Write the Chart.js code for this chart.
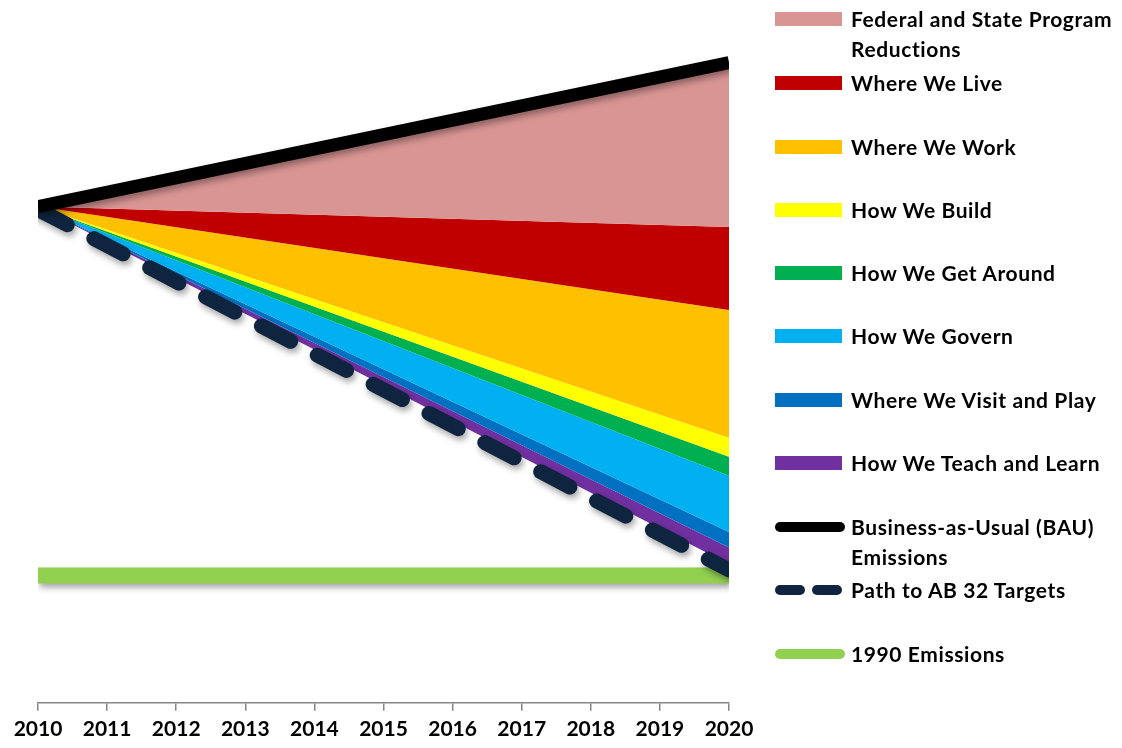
<!DOCTYPE html>
<html>
<head>
<meta charset="utf-8">
<script src="https://cdn.jsdelivr.net/npm/chart.js@4/dist/chart.umd.min.js"></script>
<style>
    html, body { margin: 0; padding: 0; background: #fff; }
    #wrap { position: relative; width: 1122px; height: 748px; overflow: hidden; }
    #chart { position: absolute; left: 0; top: 0; }
    .legend { position: absolute; left: 0; top: 0; font-family: Lato, 'Open Sans', sans-serif; font-weight: 700; font-size: 21px; letter-spacing: 0.6px; color: #000; }
    .item { position: absolute; left: 851px; line-height: 30px; white-space: nowrap; }
    .sw { position: absolute; left: 775px; width: 67px; height: 14px; }
    .ln { position: absolute; left: 775px; width: 70px; height: 10px; border-radius: 5px; }
    .dash { position: absolute; width: 30px; height: 10px; border-radius: 5px; background: #0F243E; }
</style>
</head>
<body>
<div id="wrap">
    <canvas id="chart" width="1122" height="748"></canvas>
    <div class="legend" id="legend"></div>
</div>
<script>
// years on the axis
const years = [2010, 2011, 2012, 2013, 2014, 2015, 2016, 2017, 2018, 2019, 2020];
const endYears = [2010, 2020];

// emissions, arbitrary units
const bauEmissions = [70.6, 91.1];
const bandBase = [70.6, 19.7];
const targetPath = [70.2, 18.9];
const emissions1990 = [18.1, 18.1];

// reductions by strategy, listed bottom to top
const strategies = ['How We Teach and Learn', 'Where We Visit and Play', 'How We Govern', 'How We Get Around',
    'How We Build', 'Where We Work', 'Where We Live', 'Federal and State Program Reductions'];
const reductions2010 = [0, 0, 0, 0, 0, 0, 0, 0];
const reductions2020 = [2.4, 2.2, 8.0, 2.7, 2.7, 18.2, 11.8, 23.4];
const strategyColors = ['#7030A0', '#0070C0', '#00B0F0', '#00B050', '#FFFF00', '#FFC000', '#C00000', '#D99594'];

function pts(vals) {
    return vals.map(function(v, i) { return { x: endYears[i], y: v }; });
}

// cumulative band tops, bottom up
const tops = [];
let run = bandBase.slice();
strategies.forEach(function(s, i) {
    run = [run[0] + reductions2010[i], run[1] + reductions2020[i]];
    tops.push(run.slice());
});

const datasets = [
    { label: 'Business-as-Usual (BAU) Emissions', data: pts(bauEmissions), borderColor: '#000', borderWidth: 13, fill: false, shadow: true },
    { label: 'Path to AB 32 Targets', data: pts(targetPath), borderColor: '#0F243E', borderWidth: 15, borderDash: [33, 30], borderCapStyle: 'round', fill: false, shadow: true },
    { label: '1990 Emissions', data: pts(emissions1990), borderColor: '#92D050', borderWidth: 16, fill: false, shadow: true }
];
// bands top to bottom, each fills down to the next one
for (let i = strategies.length - 1; i >= 0; i--) {
    datasets.push({
        label: strategies[i],
        data: pts(tops[i]),
        borderWidth: 0,
        borderColor: strategyColors[i],
        backgroundColor: strategyColors[i],
        fill: datasets.length + 1
    });
}
datasets.push({ label: 'base', data: pts(bandBase), borderWidth: 0, fill: false });

const shadowPlugin = {
    id: 'shadow',
    beforeDatasetDraw: function(chart, args) {
        const ds = chart.data.datasets[args.index];
        chart.ctx.save();
        if (ds.shadow) {
            chart.ctx.shadowColor = 'rgba(0,0,0,0.35)';
            chart.ctx.shadowBlur = 6;
            chart.ctx.shadowOffsetX = 2;
            chart.ctx.shadowOffsetY = 4;
        }
    },
    afterDatasetDraw: function(chart) {
        chart.ctx.restore();
    }
};

new Chart(document.getElementById('chart').getContext('2d'), {
    type: 'line',
    data: { datasets: datasets },
    options: {
        responsive: false,
        animation: false,
        layout: { padding: { left: 38, right: 393, top: 0, bottom: 0 } },
        elements: { point: { radius: 0 }, line: { tension: 0 } },
        plugins: { legend: { display: false }, tooltip: { enabled: false } },
        scales: {
            x: {
                type: 'linear',
                min: 2010,
                max: 2020,
                afterBuildTicks: function(axis) {
                    axis.ticks = years.map(function(y) { return { value: y }; });
                },
                ticks: {
                    color: '#000',
                    padding: 6,
                    maxRotation: 0,
                    autoSkip: false,
                    font: { family: 'Lato', weight: 'bold', size: 21 },
                    callback: function(v) { return String(v); }
                },
                grid: { drawOnChartArea: false, drawTicks: true, tickLength: 8, color: '#868686', lineWidth: 1.5 },
                border: { color: '#868686', width: 1.5 }
            },
            y: { display: false, min: 0, max: 100 }
        }
    },
    plugins: [shadowPlugin]
});

// legend on the right
const legendRows = [
    { text: 'Federal and State Program<br>Reductions', y: 19, color: '#D99594' },
    { text: 'Where We Live', y: 83, color: '#C00000' },
    { text: 'Where We Work', y: 147, color: '#FFC000' },
    { text: 'How We Build', y: 210, color: '#FFFF00' },
    { text: 'How We Get Around', y: 273, color: '#00B050' },
    { text: 'How We Govern', y: 336, color: '#00B0F0' },
    { text: 'Where We Visit and Play', y: 400, color: '#0070C0' },
    { text: 'How We Teach and Learn', y: 463, color: '#7030A0' },
    { text: 'Business-as-Usual (BAU)<br>Emissions', y: 527, line: '#000' },
    { text: 'Path to AB 32 Targets', y: 590, dashed: true },
    { text: '1990 Emissions', y: 654, line: '#92D050' }
];
const legend = document.getElementById('legend');
legendRows.forEach(function(r) {
    let html = '<div class="item" style="top:' + (r.y - 15) + 'px">' + r.text + '</div>';
    if (r.dashed) {
        html += '<div class="dash" style="left:775px;top:' + (r.y - 5) + 'px"></div>';
        html += '<div class="dash" style="left:812px;top:' + (r.y - 5) + 'px"></div>';
    } else if (r.line) {
        html += '<div class="ln" style="background:' + r.line + ';top:' + (r.y - 5) + 'px"></div>';
    } else {
        html += '<div class="sw" style="background:' + r.color + ';top:' + (r.y - 7) + 'px"></div>';
    }
    legend.insertAdjacentHTML('beforeend', html);
});
</script>
</body>
</html>
